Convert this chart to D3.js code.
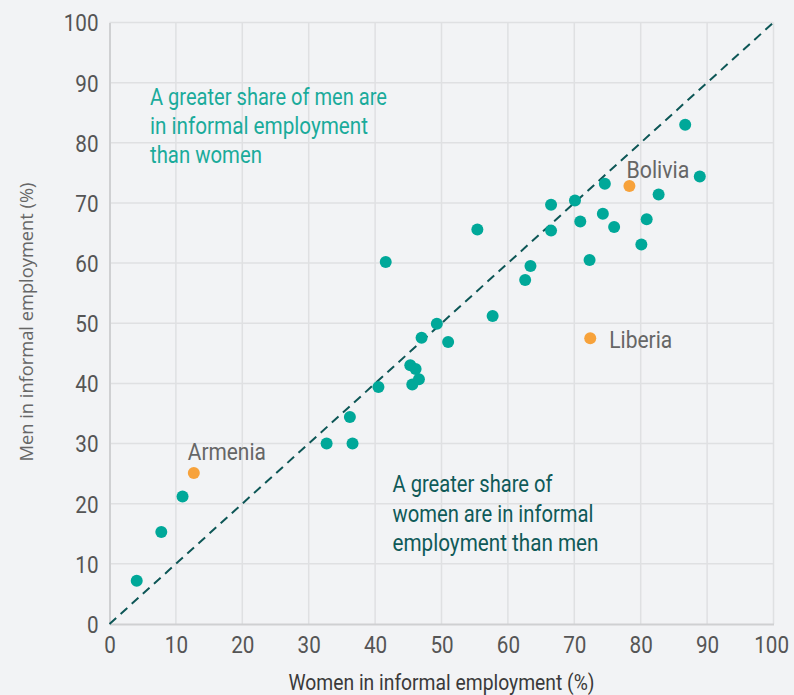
<!DOCTYPE html>
<html><head><meta charset="utf-8">
<script src="https://cdn.jsdelivr.net/npm/d3@7"></script>
<style>
html,body{margin:0;padding:0;background:#f2f3f5;}
svg{display:block;}
</style></head>
<body>
<svg id="c" width="794" height="695"></svg>
<script>
const womenTeal = [4.1,7.8,11.0,32.7,36.6,36.2,40.5,45.6,46.6,45.3,46.1,47.0,49.3,51.0,57.7,41.6,55.4,62.6,63.4,66.5,66.5,70.1,70.9,72.3,74.6,74.3,76.0,80.1,80.9,82.7,86.7,88.9];
const menTeal   = [7.2,15.3,21.2,30.0,30.0,34.4,39.4,39.8,40.7,43.0,42.4,47.6,49.9,46.9,51.2,60.2,65.6,57.2,59.5,65.4,69.7,70.4,66.9,60.5,73.2,68.2,66.0,63.1,67.3,71.4,83.0,74.4];
const highlightNames = ["Armenia","Bolivia","Liberia"];
const highlightWomen = [12.7,78.3,72.4];
const highlightMen   = [25.1,72.8,47.5];
const ticks = [0,10,20,30,40,50,60,70,80,90,100];
const xTitle = "Women in informal employment (%)";
const yTitle = "Men in informal employment (%)";
const noteMen = ["A greater share of men are","in informal employment","than women"];
const noteWomen = ["A greater share of","women are in informal","employment than men"];

const svg = d3.select("#c");
const cond = "Roboto,'Liberation Sans',sans-serif";
const x = d3.scaleLinear().domain([0,100]).range([109.5,773.5]);
const y = d3.scaleLinear().domain([0,100]).range([624,22.5]);

function squeeze(sel, factor){
  sel.each(function(){
    const w = this.getComputedTextLength();
    d3.select(this).attr("textLength", w*factor).attr("lengthAdjust","spacingAndGlyphs");
  });
}
function fitTo(sel, len){ sel.attr("textLength", len).attr("lengthAdjust","spacingAndGlyphs"); }

svg.append("rect").attr("width",794).attr("height",695).attr("fill","#f2f3f5");

// grid
const g = svg.append("g");
g.selectAll(".gx").data(ticks.slice(1)).join("line")
  .attr("x1",d=>x(d)).attr("x2",d=>x(d)).attr("y1",y(0)).attr("y2",y(100))
  .attr("stroke","#dfe0e2").attr("stroke-width",1.5);
g.selectAll(".gy").data(ticks.slice(1)).join("line")
  .attr("y1",d=>y(d)).attr("y2",d=>y(d)).attr("x1",x(0)).attr("x2",x(100))
  .attr("stroke","#dfe0e2").attr("stroke-width",1.5);

// axes
const xAxis = svg.append("g").attr("transform",`translate(0,${y(0)})`)
  .call(d3.axisBottom(x).tickValues(ticks).tickSize(0).tickPadding(12));
const yAxis = svg.append("g").attr("transform",`translate(${x(0)},0)`)
  .call(d3.axisLeft(y).tickValues(ticks).tickSize(0).tickPadding(11));
[xAxis,yAxis].forEach(a=>{
  a.select(".domain").attr("stroke","#cfd0d2").attr("stroke-width",2);
  a.selectAll("text").attr("font-family",cond).attr("font-size",24).attr("fill","#555");
});
squeeze(yAxis.selectAll("text"), 0.86);
xAxis.selectAll(".tick").filter(d=>d!==100).selectAll("text").call(s=>squeeze(s,0.86));
xAxis.selectAll("text").attr("dy","0.71em");
yAxis.selectAll("text").attr("dy","0.35em");
// last x label: condensed by a transform and kept inside the frame
xAxis.selectAll(".tick").filter(d=>d===100).select("text")
  .attr("text-anchor","end").attr("x",0)
  .attr("transform","translate(15,0) scale(0.86,1)");

// diagonal
svg.append("line").attr("x1",x(0)).attr("y1",y(0)).attr("x2",x(100)).attr("y2",y(100))
  .attr("stroke","#0d5656").attr("stroke-width",2).attr("stroke-dasharray","9,6");

// points
const teal = womenTeal.map((w,i)=>({w, m:menTeal[i]}));
svg.append("g").selectAll("circle").data(teal).join("circle")
  .attr("cx",d=>x(d.w)).attr("cy",d=>y(d.m)).attr("r",6).attr("fill","#00a899");
const hl = highlightNames.map((n,i)=>({n, w:highlightWomen[i], m:highlightMen[i]}));
svg.append("g").selectAll("circle").data(hl).join("circle")
  .attr("cx",d=>x(d.w)).attr("cy",d=>y(d.m)).attr("r",6).attr("fill","#f7a23b");

// labels for highlighted
const lblOff = {Armenia:[-6,-13], Bolivia:[-3,-8], Liberia:[19,10]};
const lblLen = {Armenia:78, Bolivia:63, Liberia:63};
const lbls = svg.append("g").selectAll("text").data(hl).join("text")
  .attr("x",d=>x(d.w)+lblOff[d.n][0]).attr("y",d=>y(d.m)+lblOff[d.n][1])
  .attr("font-family",cond).attr("font-size",23).attr("fill","#666")
  .text(d=>d.n);
lbls.each(function(d){ fitTo(d3.select(this), lblLen[d.n]); });

// notes
const noteMenLen = [237,218,112];
const noteWomenLen = [160,201,206];
svg.append("g").selectAll("text").data(noteMen).join("text")
  .attr("x",150).attr("y",(d,i)=>105+i*29).attr("font-family",cond).attr("font-size",23)
  .attr("fill","#1aab9b").text(d=>d)
  .each(function(d,i){ fitTo(d3.select(this), noteMenLen[i]); });
svg.append("g").selectAll("text").data(noteWomen).join("text")
  .attr("x",392.5).attr("y",(d,i)=>492+i*29.5).attr("font-family",cond).attr("font-size",23)
  .attr("fill","#0f5a58").text(d=>d)
  .each(function(d,i){ fitTo(d3.select(this), noteWomenLen[i]); });

// axis titles
const xt = svg.append("text").attr("x",x(50)).attr("y",690).attr("text-anchor","middle")
  .attr("font-family",cond).attr("font-size",22).attr("fill","#3a3a3a").text(xTitle);
fitTo(xt, 306);
const yt = svg.append("text").attr("transform","translate(33,322) rotate(-90)").attr("text-anchor","middle")
  .attr("font-family","'Open Sans',sans-serif").attr("font-size",19).attr("fill","#666").text(yTitle);
fitTo(yt, 279);
</script>
</body></html>
